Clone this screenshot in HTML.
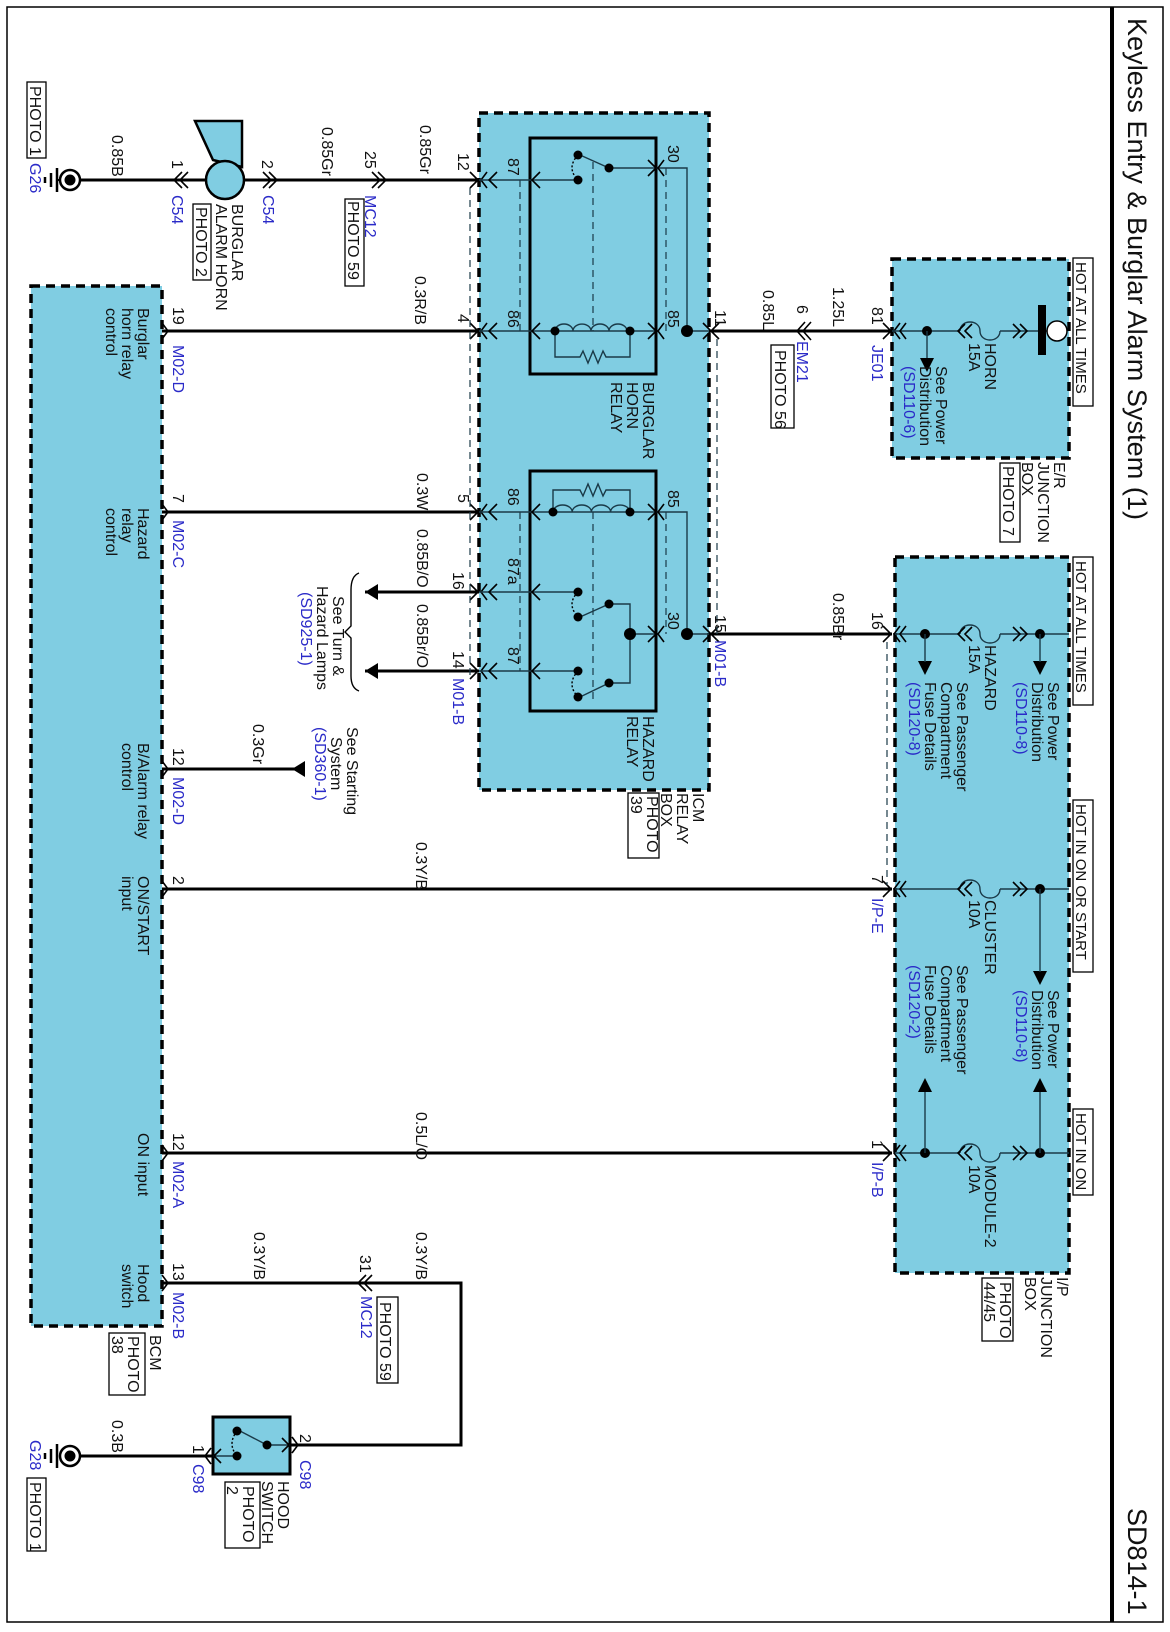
<!DOCTYPE html>
<html><head><meta charset="utf-8"><style>
html,body{margin:0;padding:0;background:#fff}
svg{display:block}
text{font-family:"Liberation Sans",Arial,sans-serif;font-size:16px;fill:#111}
.b{fill:#2a2ac8}
.t{font-size:27px}
.w{stroke:#000;stroke-width:3;fill:none}
.tw{stroke:#1a3a48;stroke-width:1.4;fill:none}
.dl{stroke:#1a3a48;stroke-width:1.2;stroke-dasharray:7 5;fill:none}
.box{fill:#80cde2;stroke:#000;stroke-width:3.5;stroke-dasharray:9 6}
.rb{fill:none;stroke:#000;stroke-width:3}
.pb{fill:#fff;stroke:#000;stroke-width:1.3}
.ch{stroke:#000;stroke-width:1.6;fill:none}
</style></head><body>
<svg width="1170" height="1632" viewBox="0 0 1170 1632" xmlns="http://www.w3.org/2000/svg">
<rect x="7" y="7" width="1156" height="1615" fill="none" stroke="#000" stroke-width="1.5"/>
<line x1="1112" y1="7" x2="1112" y2="1622" stroke="#000" stroke-width="4"/>
<text class="t" transform="translate(1128,18) rotate(90)" textLength="502">Keyless Entry &amp; Burglar Alarm System (1)</text>
<text class="t" transform="translate(1128,1508) rotate(90)">SD814-1</text>

<rect class="box" x="31" y="286" width="131" height="1040"/>
<rect class="box" x="479" y="113" width="230" height="677"/>
<rect class="box" x="892" y="259" width="177" height="199"/>
<rect class="box" x="895" y="557" width="174" height="716"/>
<rect x="530" y="138" width="126" height="236" class="rb"/>
<rect x="530" y="471" width="126" height="240" class="rb"/>

<path class="w" d="M80 180H479"/>
<path class="w" d="M162 331H479"/>
<path class="w" d="M162 512H479"/>
<path class="w" d="M365 592H479"/>
<path class="w" d="M365 671H479"/>
<path class="w" d="M297 769H162"/>
<path class="w" d="M162 889H892"/>
<path class="w" d="M162 1153H892"/>
<path class="w" d="M162 1283H461V1445H290"/>
<path class="w" d="M80 1456H213"/>
<path class="w" d="M709 331H892"/>
<path class="w" d="M709 634H892"/>

<polygon points="365,592 378,584 378,600" fill="#000"/>
<polygon points="365,671 378,663 378,679" fill="#000"/>
<polygon points="292,769 305,761 305,777" fill="#000"/>
<path d="M359 573 Q351 576 351 590 L351 626 L345 632 L351 638 L351 676 Q351 688 359 691" stroke="#000" stroke-width="1.4" fill="none"/>

<polygon points="195,121 242,121 242,167 213,160" fill="#80cde2" stroke="#000" stroke-width="2.5"/>
<circle cx="225" cy="180" r="19" fill="#80cde2" stroke="#000" stroke-width="2.5"/>

<g stroke="#000" fill="none">
<circle cx="70" cy="180" r="10" stroke-width="2.5" fill="#fff"/><circle cx="70" cy="180" r="5" fill="#000"/>
<line x1="60" y1="180" x2="57" y2="180" stroke-width="2"/>
<line x1="57" y1="168" x2="57" y2="192" stroke-width="2.5"/><line x1="51" y1="173" x2="51" y2="187" stroke-width="2.5"/><line x1="45" y1="177" x2="45" y2="183" stroke-width="2.5"/>
<circle cx="70" cy="1456" r="10" stroke-width="2.5" fill="#fff"/><circle cx="70" cy="1456" r="5" fill="#000"/>
<line x1="57" y1="1444" x2="57" y2="1468" stroke-width="2.5"/><line x1="51" y1="1449" x2="51" y2="1463" stroke-width="2.5"/><line x1="45" y1="1453" x2="45" y2="1459" stroke-width="2.5"/>
</g>

<g class="ch">
<path d="M182 172L174 180L182 188M188 172L180 180L188 188"/>
<path d="M263 172L271 180L263 188M269 172L277 180L269 188"/>
<path d="M372 172L380 180L372 188M378 172L386 180L378 188"/>
<path d="M470 172L478 180L470 188"/><path d="M487 172L481 180L487 188"/>
<path d="M470 323L478 331L470 339"/><path d="M487 323L481 331L487 339"/>
<path d="M470 504L478 512L470 520"/><path d="M487 504L481 512L487 520"/>
<path d="M470 584L478 592L470 600"/><path d="M487 584L481 592L487 600"/>
<path d="M470 663L478 671L470 679"/><path d="M487 663L481 671L487 679"/>
<path d="M162 323L168 331L162 339"/><path d="M162 504L168 512L162 520"/><path d="M162 761L168 769L162 777"/>
<path d="M162 881L168 889L162 897"/><path d="M162 1145L168 1153L162 1161"/><path d="M162 1275L168 1283L162 1291"/>
<path d="M703 323L711 331L703 339"/><path d="M719 323L711 331L719 339"/>
<path d="M703 626L711 634L703 642"/><path d="M719 626L711 634L719 642"/>
<path d="M805 322L797 331L805 340M811 322L803 331L811 340"/>
<path d="M883 323L891 331L883 339M900 323L894 331L900 339"/>
<path d="M883 626L891 634L883 642M900 626L894 634L900 642"/>
<path d="M883 881L891 889L883 897M900 881L894 889L900 897"/>
<path d="M883 1145L891 1153L883 1161M900 1145L894 1153L900 1161"/>
<path d="M366 1275L358 1283L366 1291M372 1275L364 1283L372 1291"/>
<path d="M292 1437L298 1445L292 1453"/><path d="M211 1448L205 1456L211 1464"/>
</g>

<path class="dl" d="M470 188V680"/>
<path class="dl" d="M717 339V640"/>
<path class="dl" d="M887 642V885"/>

<g>
<path class="tw" d="M479 180H578M479 331H656M609 168H687V331H709"/>
<path class="ch" d="M540 172L532 180L540 188M497 172L489 180L497 188M540 323L532 331L540 339M497 323L489 331L497 339M648 160L656 168L648 176M664 160L658 168L664 176M648 323L656 331L648 339M664 323L658 331L664 339"/>
<path class="tw" d="M609 168L580 155"/>
<path d="M578 155Q566 168 578 180" stroke="#000" stroke-width="1.4" stroke-dasharray="2 2" fill="none"/>
<path class="dl" d="M593 162V331M520 180V331M666 168V331"/>
<path class="tw" d="M555 331a9 7 0 0 1 18 0a9 7 0 0 1 18 0a9 7 0 0 1 18 0a9 7 0 0 1 18 0"/>
<path class="tw" d="M555 331V357H580l3 -6l5 12l5 -12l5 12l5 -12l3 6H630V331"/>
<g fill="#000"><circle cx="578" cy="155" r="4.5"/><circle cx="578" cy="180" r="4.5"/><circle cx="609" cy="168" r="4.5"/><circle cx="555" cy="331" r="4.5"/><circle cx="630" cy="331" r="4.5"/><circle cx="687" cy="331" r="6"/></g>
</g>

<g>
<path class="tw" d="M479 512H656M656 512H687V634H709M479 592H578M479 671H578M609 604H630V683H609M630 634H656"/>
<path class="ch" d="M540 504L532 512L540 520M497 504L489 512L497 520M540 584L532 592L540 600M497 584L489 592L497 600M540 663L532 671L540 679M497 663L489 671L497 679M648 504L656 512L648 520M664 504L658 512L664 520M648 626L656 634L648 642M664 626L658 634L664 642"/>
<path class="tw" d="M609 604L580 617M609 683L580 697"/>
<path d="M578 592Q566 604 578 617M578 671Q566 684 578 697" stroke="#000" stroke-width="1.4" stroke-dasharray="2 2" fill="none"/>
<path class="dl" d="M593 512V700M520 512V671M666 512V634"/>
<path class="tw" d="M553 512a9.6 7 0 0 1 19.2 0a9.6 7 0 0 1 19.2 0a9.6 7 0 0 1 19.2 0a9.6 7 0 0 1 19.2 0"/>
<path class="tw" d="M553 512V490H580l3 6l5 -12l5 12l5 -12l5 12l3 -6H630V512"/>
<g fill="#000"><circle cx="553" cy="512" r="4.5"/><circle cx="630" cy="512" r="4.5"/><circle cx="578" cy="592" r="4.5"/><circle cx="578" cy="617" r="4.5"/><circle cx="609" cy="604" r="4.5"/><circle cx="578" cy="671" r="4.5"/><circle cx="578" cy="697" r="4.5"/><circle cx="609" cy="683" r="4.5"/><circle cx="630" cy="634" r="6"/><circle cx="687" cy="634" r="6"/></g>
</g>

<path class="tw" d="M892 331H960M1000 331H1057"/>
<path class="tw" d="M960 331c0 -12 20 -12 20 0s20 12 20 0"/>
<path class="ch" d="M965 324L958 331L965 338M972 324L965 331L972 338M1013 324L1020 331L1013 338M1020 324L1027 331L1020 338M906 323L900 331L906 339"/>
<rect x="1038" y="305" width="8" height="50" fill="#000"/>
<circle cx="1057" cy="331" r="10" fill="#fff" stroke="#000" stroke-width="1.5"/>
<circle cx="927" cy="331" r="5" fill="#000"/>
<path class="tw" d="M927 331V360"/><polygon points="927,372 920,358 934,358" fill="#000"/>

<path class="tw" d="M895 634H960M1000 634H1069M895 889H960M1000 889H1069M895 1153H960M1000 1153H1069"/>
<path class="tw" d="M960 634c0 -12 20 -12 20 0s20 12 20 0M960 889c0 -12 20 -12 20 0s20 12 20 0M960 1153c0 -12 20 -12 20 0s20 12 20 0"/>
<path class="ch" d="M965 627L958 634L965 641M972 627L965 634L972 641M1013 627L1020 634L1013 641M1020 627L1027 634L1020 641M965 882L958 889L965 896M972 882L965 889L972 896M1013 882L1020 889L1013 896M1020 882L1027 889L1020 896M965 1146L958 1153L965 1160M972 1146L965 1153L972 1160M1013 1146L1020 1153L1013 1160M1020 1146L1027 1153L1020 1160M906 626L900 634L906 642M906 881L900 889L906 897M906 1145L900 1153L906 1161"/>
<g fill="#000">
<circle cx="925" cy="634" r="5"/><circle cx="1040" cy="634" r="5"/><circle cx="1040" cy="889" r="5"/><circle cx="925" cy="1153" r="5"/><circle cx="1040" cy="1153" r="5"/>
<polygon points="925,675 918,661 932,661"/><polygon points="1040,675 1033,661 1047,661"/><polygon points="1040,985 1033,971 1047,971"/>
<polygon points="925,1078 918,1092 932,1092"/><polygon points="1040,1078 1033,1092 1047,1092"/>
</g>
<path class="tw" d="M925 634V662M1040 634V662M1040 889V972M925 1153V1092M1040 1153V1092"/>

<rect x="213" y="1417" width="77" height="57" fill="#80cde2" stroke="#000" stroke-width="3"/>
<path class="tw" d="M290 1445H267L240 1431M213 1456H237"/>
<path d="M237 1431Q227 1444 237 1456" stroke="#000" stroke-width="1.4" stroke-dasharray="2 2" fill="none"/>
<path class="ch" d="M282 1438L289 1445L282 1452M221 1449L214 1456L221 1463"/>
<g fill="#000"><circle cx="237" cy="1431" r="4.5"/><circle cx="267" cy="1445" r="4.5"/><circle cx="237" cy="1456" r="4.5"/></g>

<g class="pb">
<rect x="27" y="82" width="19" height="76"/>
<rect x="193" y="204" width="18" height="76"/>
<rect x="345" y="199" width="19" height="87"/>
<rect x="771" y="345" width="23" height="83"/>
<rect x="1073" y="258" width="20" height="148"/>
<rect x="1000" y="463" width="20" height="79"/>
<rect x="1073" y="557" width="20" height="148"/>
<rect x="1073" y="800" width="20" height="172"/>
<rect x="1073" y="1109" width="20" height="86"/>
<rect x="982" y="1278" width="31" height="63"/>
<rect x="628" y="793" width="31" height="65"/>
<rect x="109" y="1333" width="36" height="62"/>
<rect x="377" y="1297" width="21" height="86"/>
<rect x="225" y="1482" width="35" height="66"/>
<rect x="27" y="1478" width="19" height="73"/>
</g>

<g>
<text transform="translate(30,86) rotate(90)">PHOTO 1</text>
<text class="b" transform="translate(30,163) rotate(90)">G26</text>
<text transform="translate(112,135) rotate(90)">0.85B</text>
<text transform="translate(172,160) rotate(90)">1</text>
<text class="b" transform="translate(172,195) rotate(90)">C54</text>
<text transform="translate(232,204) rotate(90)">BURGLAR<tspan x="0" dy="16">ALARM HORN</tspan></text>
<text transform="translate(196,207) rotate(90)">PHOTO 2</text>
<text transform="translate(262,160) rotate(90)">2</text>
<text class="b" transform="translate(263,195) rotate(90)">C54</text>
<text transform="translate(322,127) rotate(90)">0.85Gr</text>
<text transform="translate(365,151) rotate(90)">25</text>
<text class="b" transform="translate(365,195) rotate(90)">MC12</text>
<text transform="translate(348,201) rotate(90)">PHOTO 59</text>
<text transform="translate(420,125) rotate(90)">0.85Gr</text>
<text transform="translate(458,153) rotate(90)">12</text>

<text transform="translate(415,276) rotate(90)">0.3R/B</text>
<text transform="translate(458,314) rotate(90)">4</text>
<text transform="translate(173,307) rotate(90)">19</text>
<text class="b" transform="translate(173,345) rotate(90)">M02-D</text>
<text transform="translate(138,308) rotate(90)">Burglar<tspan x="0" dy="16">horn relay</tspan><tspan x="0" dy="16">control</tspan></text>

<text transform="translate(417,473) rotate(90)">0.3W</text>
<text transform="translate(458,494) rotate(90)">5</text>
<text transform="translate(173,494) rotate(90)">7</text>
<text class="b" transform="translate(173,520) rotate(90)">M02-C</text>
<text transform="translate(138,508) rotate(90)">Hazard<tspan x="0" dy="16">relay</tspan><tspan x="0" dy="16">control</tspan></text>

<text transform="translate(417,529) rotate(90)">0.85B/O</text>
<text transform="translate(453,572) rotate(90)">16</text>
<text transform="translate(417,604) rotate(90)">0.85Br/O</text>
<text transform="translate(453,651) rotate(90)">14</text>
<text class="b" transform="translate(453,678) rotate(90)">M01-B</text>
<text transform="translate(333,596) rotate(90)">See Turn &amp;<tspan x="-10" dy="16">Hazard Lamps</tspan><tspan x="-4" dy="16" class="b">(SD925-1)</tspan></text>

<text transform="translate(253,724) rotate(90)">0.3Gr</text>
<text transform="translate(173,748) rotate(90)">12</text>
<text class="b" transform="translate(173,777) rotate(90)">M02-D</text>
<text transform="translate(138,743) rotate(90)">B/Alarm relay<tspan x="0" dy="16">control</tspan></text>
<text transform="translate(347,727) rotate(90)">See Starting<tspan x="10" dy="16">System</tspan><tspan x="0" dy="16" class="b">(SD360-1)</tspan></text>

<text transform="translate(416,842) rotate(90)">0.3Y/B</text>
<text transform="translate(173,876) rotate(90)">2</text>
<text transform="translate(138,876) rotate(90)">ON/START<tspan x="0" dy="16">input</tspan></text>
<text transform="translate(872,875) rotate(90)">7</text>
<text class="b" transform="translate(872,898) rotate(90)">I/P-E</text>

<text transform="translate(416,1112) rotate(90)">0.5L/O</text>
<text transform="translate(173,1133) rotate(90)">12</text>
<text class="b" transform="translate(173,1161) rotate(90)">M02-A</text>
<text transform="translate(138,1133) rotate(90)">ON input</text>
<text transform="translate(872,1140) rotate(90)">1</text>
<text class="b" transform="translate(872,1162) rotate(90)">I/P-B</text>

<text transform="translate(254,1232) rotate(90)">0.3Y/B</text>
<text transform="translate(416,1232) rotate(90)">0.3Y/B</text>
<text transform="translate(173,1263) rotate(90)">13</text>
<text class="b" transform="translate(173,1292) rotate(90)">M02-B</text>
<text transform="translate(138,1264) rotate(90)">Hood<tspan x="0" dy="16">switch</tspan></text>
<text transform="translate(360,1255) rotate(90)">31</text>
<text class="b" transform="translate(361,1296) rotate(90)">MC12</text>
<text transform="translate(380,1302) rotate(90)">PHOTO 59</text>
<text transform="translate(150,1335) rotate(90)">BCM</text>
<text transform="translate(128,1336) rotate(90)">PHOTO<tspan x="0" dy="16">38</tspan></text>

<text transform="translate(300,1434) rotate(90)">2</text>
<text class="b" transform="translate(300,1460) rotate(90)">C98</text>
<text transform="translate(193,1445) rotate(90)">1</text>
<text class="b" transform="translate(193,1464) rotate(90)">C98</text>
<text transform="translate(278,1481) rotate(90)">HOOD<tspan x="0" dy="16">SWITCH</tspan></text>
<text transform="translate(243,1486) rotate(90)">PHOTO<tspan x="0" dy="16">2</tspan></text>
<text transform="translate(112,1420) rotate(90)">0.3B</text>
<text class="b" transform="translate(30,1440) rotate(90)">G28</text>
<text transform="translate(30,1482) rotate(90)">PHOTO 1</text>

<text transform="translate(508,158) rotate(90)">87</text>
<text transform="translate(508,310) rotate(90)">86</text>
<text transform="translate(668,145) rotate(90)">30</text>
<text transform="translate(668,310) rotate(90)">85</text>
<text transform="translate(643,382) rotate(90)">BURGLAR<tspan x="0" dy="16">HORN</tspan><tspan x="0" dy="16">RELAY</tspan></text>
<text transform="translate(508,488) rotate(90)">86</text>
<text transform="translate(508,558) rotate(90)">87a</text>
<text transform="translate(508,647) rotate(90)">87</text>
<text transform="translate(668,490) rotate(90)">85</text>
<text transform="translate(668,612) rotate(90)">30</text>
<text transform="translate(643,716) rotate(90)">HAZARD<tspan x="0" dy="16">RELAY</tspan></text>
<text transform="translate(693,793) rotate(90)">ICM<tspan x="0" dy="16">RELAY</tspan><tspan x="0" dy="16">BOX</tspan></text>
<text transform="translate(647,796) rotate(90)">PHOTO<tspan x="0" dy="16">39</tspan></text>
<text transform="translate(715,310) rotate(90)">11</text>
<text transform="translate(715,615) rotate(90)">15</text>
<text class="b" transform="translate(715,640) rotate(90)">M01-B</text>

<text transform="translate(763,290) rotate(90)">0.85L</text>
<text transform="translate(797,305) rotate(90)">6</text>
<text class="b" transform="translate(797,341) rotate(90)">EM21</text>
<text transform="translate(775,350) rotate(90)">PHOTO 56</text>
<text transform="translate(833,287) rotate(90)">1.25L</text>
<text transform="translate(872,307) rotate(90)">81</text>
<text class="b" transform="translate(872,345) rotate(90)">JE01</text>
<text transform="translate(833,593) rotate(90)">0.85Br</text>
<text transform="translate(872,612) rotate(90)">16</text>

<text transform="translate(1076,262) rotate(90)" style="font-size:15px">HOT AT ALL TIMES</text>
<text transform="translate(985,343) rotate(90)">HORN<tspan x="0" dy="16">15A</tspan></text>
<text transform="translate(936,366) rotate(90)">See Power<tspan x="0" dy="16">Distribution</tspan><tspan x="0" dy="16" class="b">(SD110-6)</tspan></text>
<text transform="translate(1054,462) rotate(90)">E/R<tspan x="0" dy="16">JUNCTION</tspan><tspan x="0" dy="16">BOX</tspan></text>
<text transform="translate(1003,466) rotate(90)">PHOTO 7</text>

<text transform="translate(1076,561) rotate(90)" style="font-size:15px">HOT AT ALL TIMES</text>
<text transform="translate(985,645) rotate(90)">HAZARD<tspan x="0" dy="16">15A</tspan></text>
<text transform="translate(1048,682) rotate(90)">See Power<tspan x="0" dy="16">Distribution</tspan><tspan x="0" dy="16" class="b">(SD110-8)</tspan></text>
<text transform="translate(957,682) rotate(90)">See Passenger<tspan x="0" dy="16">Compartment</tspan><tspan x="0" dy="16">Fuse Details</tspan><tspan x="0" dy="16" class="b">(SD120-8)</tspan></text>
<text transform="translate(1076,804) rotate(90)" style="font-size:15px">HOT IN ON OR START</text>
<text transform="translate(985,900) rotate(90)">CLUSTER<tspan x="0" dy="16">10A</tspan></text>
<text transform="translate(1048,990) rotate(90)">See Power<tspan x="0" dy="16">Distribution</tspan><tspan x="0" dy="16" class="b">(SD110-8)</tspan></text>
<text transform="translate(957,965) rotate(90)">See Passenger<tspan x="0" dy="16">Compartment</tspan><tspan x="0" dy="16">Fuse Details</tspan><tspan x="0" dy="16" class="b">(SD120-2)</tspan></text>
<text transform="translate(1076,1113) rotate(90)" style="font-size:15px">HOT IN ON</text>
<text transform="translate(985,1165) rotate(90)">MODULE-2<tspan x="0" dy="16">10A</tspan></text>
<text transform="translate(1057,1277) rotate(90)">I/P<tspan x="0" dy="16">JUNCTION</tspan><tspan x="0" dy="16">BOX</tspan></text>
<text transform="translate(1000,1282) rotate(90)">PHOTO<tspan x="0" dy="16">44/45</tspan></text>
</g>
</svg>
</body></html>
